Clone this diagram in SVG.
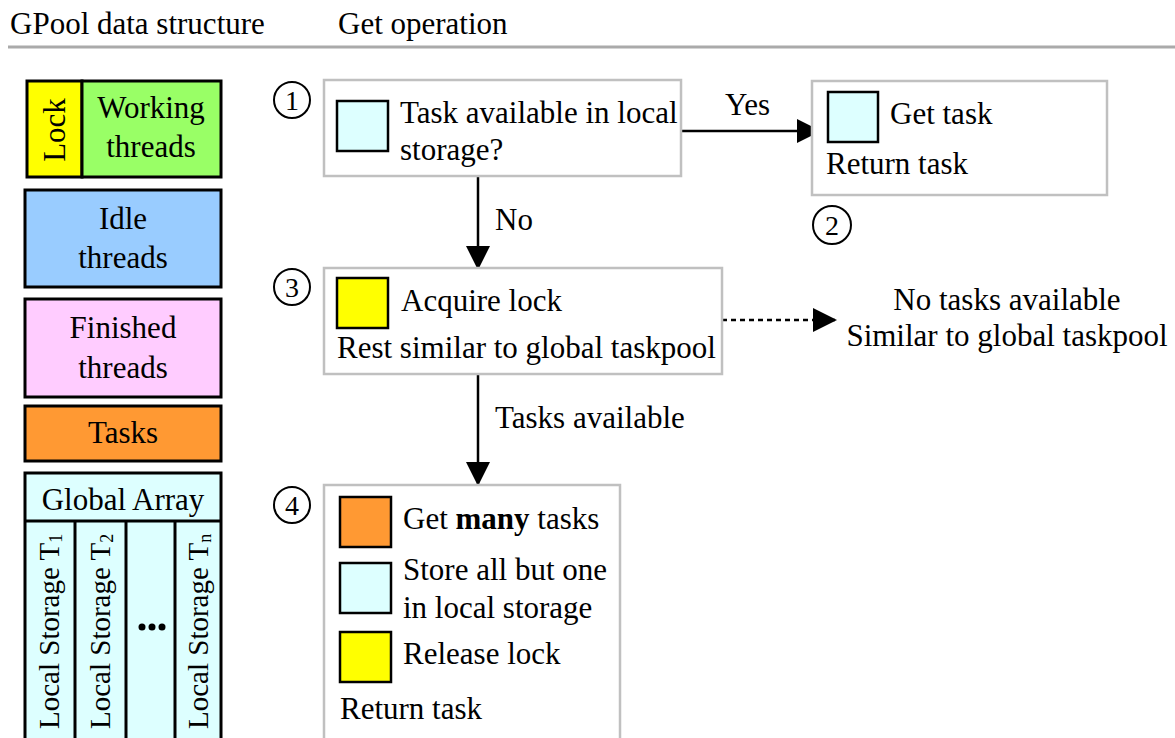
<svg xmlns="http://www.w3.org/2000/svg" width="1175" height="738" viewBox="0 0 1175 738">
<style>
text{font-family:"Liberation Serif","Times New Roman",serif;font-size:31px;fill:#000}
.c{text-anchor:middle}
.n{font-size:28px}
.v{font-size:29px}
.ds{stroke:#000;stroke-width:3}
.sq{stroke:#000;stroke-width:2.5}
.fl{fill:#fff;stroke:#c0c0c0;stroke-width:2.5}
.circ{fill:none;stroke:#000;stroke-width:2}
.edge{stroke:#000;stroke-width:2.5;fill:none}
.cyan{fill:#ddffff}.yel{fill:#ffff00}.org{fill:#ff9933}
</style>
<defs>
<marker id="ah2" viewBox="0 0 24 24" refX="24" refY="12" markerWidth="24" markerHeight="24" markerUnits="userSpaceOnUse" orient="auto">
<path d="M0,0 L24,12 L0,24 z" fill="#000"/>
</marker>
</defs>
<rect width="1175" height="738" fill="#fff"/>
<g id="header">
<text x="10" y="34">GPool data structure</text>
<text x="338" y="34">Get operation</text>
<line x1="8" y1="47" x2="1175" y2="47" stroke="#aaa" stroke-width="3"/>
</g>
<g id="lock">
<rect x="27" y="81" width="55" height="96" class="ds yel"/>
<text class="c" transform="translate(65,130) rotate(-90)">Lock</text>
</g>
<g id="working">
<rect x="82" y="81" width="139" height="96" class="ds" fill="#99ff66"/>
<text class="c" x="151" y="118">Working</text>
<text class="c" x="151" y="157">threads</text>
</g>
<g id="idle">
<rect x="25" y="190" width="196" height="97" class="ds" fill="#99ccff"/>
<text class="c" x="123" y="229">Idle</text>
<text class="c" x="123" y="268">threads</text>
</g>
<g id="finished">
<rect x="25" y="299" width="196" height="98" class="ds" fill="#ffccff"/>
<text class="c" x="123" y="338">Finished</text>
<text class="c" x="123" y="378">threads</text>
</g>
<g id="tasks">
<rect x="25" y="406" width="196" height="55" class="ds org"/>
<text class="c" x="123" y="443">Tasks</text>
</g>
<g id="globalarray">
<rect x="25" y="473" width="196" height="280" class="ds cyan"/>
<line x1="25" y1="521" x2="221" y2="521" class="ds"/>
<line x1="75" y1="521" x2="75" y2="740" class="ds"/>
<line x1="126" y1="521" x2="126" y2="740" class="ds"/>
<line x1="175" y1="521" x2="175" y2="740" class="ds"/>
<text class="c" x="123" y="510">Global Array</text>
<text class="v" transform="translate(59,729) rotate(-90)">Local Storage T<tspan font-size="18" dy="3">1</tspan></text>
<text class="v" transform="translate(110,729) rotate(-90)">Local Storage T<tspan font-size="18" dy="3">2</tspan></text>
<text class="v" transform="translate(208,729) rotate(-90)">Local Storage T<tspan font-size="18" dy="3">n</tspan></text>
<circle cx="142" cy="627" r="3.5" fill="#000"/>
<circle cx="152" cy="627" r="3.5" fill="#000"/>
<circle cx="162" cy="627" r="3.5" fill="#000"/>
</g>
<g id="connectors">
<line x1="681" y1="131" x2="821" y2="131" class="edge" marker-end="url(#ah2)"/>
<text x="725" y="115">Yes</text>
<line x1="478" y1="176" x2="478" y2="270" class="edge" marker-end="url(#ah2)"/>
<text x="495" y="230">No</text>
<line x1="722" y1="320" x2="837" y2="320" class="edge" stroke-dasharray="5,4" marker-end="url(#ah2)"/>
<line x1="478" y1="374" x2="478" y2="486" class="edge" marker-end="url(#ah2)"/>
<text x="495" y="428">Tasks available</text>
</g>
<g id="step1">
<rect x="324" y="80" width="357" height="96" class="fl"/>
<rect x="337" y="101" width="51" height="50" class="sq cyan"/>
<text x="400" y="123">Task available in local</text>
<text x="400" y="160">storage?</text>
<circle cx="292" cy="100" r="18" class="circ"/>
<text class="c n" x="292" y="110">1</text>
</g>
<g id="step2">
<rect x="812" y="81" width="295" height="114" class="fl"/>
<rect x="828" y="92" width="50" height="50" class="sq cyan"/>
<text x="890" y="124">Get task</text>
<text x="826" y="174">Return task</text>
<circle cx="832" cy="225" r="19" class="circ"/>
<text class="c n" x="832" y="235">2</text>
</g>
<g id="step3">
<rect x="324" y="268" width="398" height="106" class="fl"/>
<rect x="337" y="278" width="51" height="50" class="sq yel"/>
<text x="401" y="311">Acquire lock</text>
<text x="337" y="358">Rest similar to global taskpool</text>
<circle cx="292" cy="287" r="18" class="circ"/>
<text class="c n" x="292" y="297">3</text>
</g>
<g id="notasks">
<text class="c" x="1007" y="310">No tasks available</text>
<text class="c" x="1007" y="346">Similar to global taskpool</text>
</g>
<g id="step4">
<rect x="324" y="485" width="296" height="270" class="fl"/>
<rect x="340" y="497" width="51" height="50" class="sq org"/>
<text x="403" y="529">Get <tspan font-weight="bold">many</tspan> tasks</text>
<rect x="340" y="563" width="51" height="50" class="sq cyan"/>
<text x="403" y="580">Store all but one</text>
<text x="403" y="618">in local storage</text>
<rect x="340" y="632" width="51" height="50" class="sq yel"/>
<text x="403" y="664">Release lock</text>
<text x="340" y="719">Return task</text>
<circle cx="292" cy="505" r="18" class="circ"/>
<text class="c n" x="292" y="515">4</text>
</g>
</svg>
